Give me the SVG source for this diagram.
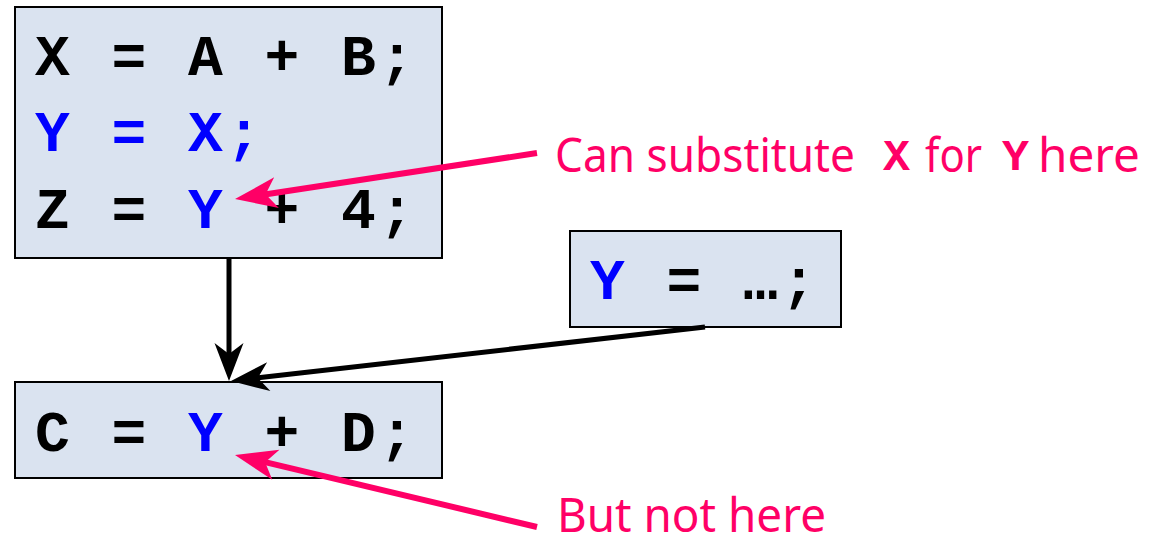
<svg xmlns="http://www.w3.org/2000/svg" width="1151" height="546" viewBox="0 0 1151 546">
<style>
.box{fill:#dae3f0;stroke:#000;stroke-width:2}
.code{font-family:"Liberation Mono","Courier New",monospace;font-weight:bold;font-size:58px;letter-spacing:3.45px;fill:#000}
.blue{fill:#0000ff}
.note{font-family:"Noto Sans","Open Sans",sans-serif;font-size:47px;fill:#ff0066}
.notecode{font-family:"Liberation Mono","Courier New",monospace;font-weight:bold;font-size:45px;fill:#ff0066}
.flow{stroke:#000;stroke-width:5;fill:none}
.point{stroke:#ff0066;stroke-width:6;fill:none}
.hb{fill:#000;stroke:none}
.hp{fill:#ff0066;stroke:none}
</style>
<defs>
<path id="headBlack" d="M0,0 L-38,-14.5 L-27,0 L-38,14.5 Z"/>
<path id="headPink" d="M0,0 L-42,-15.5 L-31,0 L-42,15.5 Z"/>
</defs>
<g id="block1">
<rect class="box" x="15" y="7" width="427" height="251"/>
<text class="code" x="35" y="75">X = A + B;</text>
<text class="code blue" x="35" y="151">Y = X;</text>
<text class="code" x="35" y="228">Z = <tspan class="blue">Y</tspan> + 4;</text>
</g>
<g id="block2">
<rect class="box" x="570" y="231" width="271" height="96"/>
<text class="code" x="590" y="299"><tspan class="blue">Y</tspan> = …;</text>
</g>
<g id="block3">
<rect class="box" x="15" y="382" width="427" height="96"/>
<text class="code" x="35" y="451">C = <tspan class="blue">Y</tspan> + D;</text>
</g>
<g id="connectors">
<line class="flow" x1="229" y1="259" x2="229" y2="356"/>
<use href="#headBlack" class="hb" transform="translate(229,381) rotate(90)"/>
<line class="flow" x1="705" y1="327" x2="256" y2="378"/>
<use href="#headBlack" class="hb" transform="translate(231,381) rotate(173.5)"/>
<line class="point" x1="537" y1="153" x2="263" y2="194.8"/>
<use href="#headPink" class="hp" transform="translate(235,199) rotate(171.34)"/>
<line class="point" x1="537" y1="527" x2="263" y2="461.6"/>
<use href="#headPink" class="hp" transform="translate(235,455) rotate(-166.59)"/>
</g>
<g id="label1">
<text class="note" x="555" y="172" textLength="300" lengthAdjust="spacingAndGlyphs">Can substitute</text>
<text class="notecode" x="883" y="170">X</text>
<text class="note" x="925" y="172" textLength="57" lengthAdjust="spacingAndGlyphs">for</text>
<text class="notecode" x="1002" y="170">Y</text>
<text class="note" x="1038" y="172" textLength="102" lengthAdjust="spacingAndGlyphs">here</text>
</g>
<g id="label2">
<text class="note" x="557" y="532" textLength="269" lengthAdjust="spacingAndGlyphs">But not here</text>
</g>
</svg>
